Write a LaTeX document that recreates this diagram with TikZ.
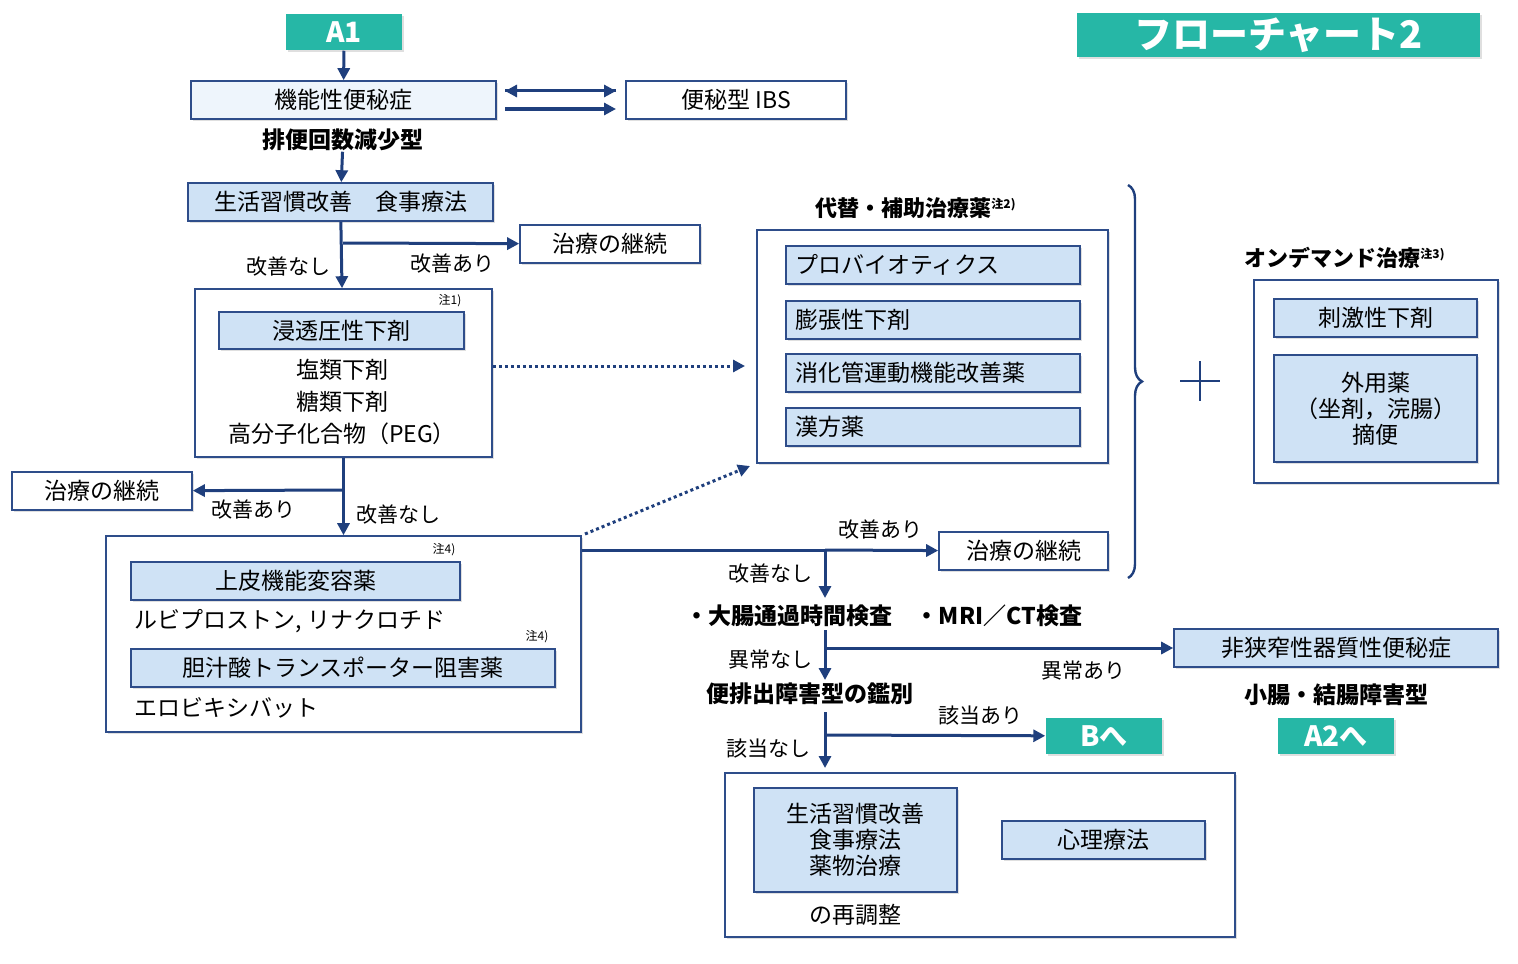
\documentclass[tikz,border=0pt]{standalone}
\usepackage{fontspec}
\setmainfont{Noto Sans CJK JP}
\usetikzlibrary{arrows.meta,shadows,decorations.pathreplacing}
\definecolor{teal}{RGB}{38,183,166}
\definecolor{edge}{RGB}{46,77,138}
\definecolor{line}{RGB}{31,63,125}
\definecolor{pale}{RGB}{238,245,252}
\definecolor{fillb}{RGB}{207,226,245}
\tikzset{
  every picture/.style={line width=0.75pt},
  box/.style={draw=edge,line width=0.8pt,fill=white,inner sep=0pt,
    drop shadow={shadow xshift=1.2pt,shadow yshift=-1.2pt,opacity=0.25},
    font=\fontsize{11.5}{14}\selectfont},
  bbox/.style={box,fill=fillb},
  tag/.style={fill=teal,text=white,inner sep=0pt,
    drop shadow={shadow xshift=1.2pt,shadow yshift=-1.2pt,opacity=0.25},
    font=\bfseries\fontsize{14}{16}\selectfont},
  txt/.style={inner sep=0pt,font=\fontsize{11.5}{14}\selectfont},
  lbl/.style={inner sep=0pt,font=\fontsize{10.5}{12}\selectfont},
  note/.style={inner sep=0pt,font=\fontsize{6}{7}\selectfont},
  arr/.style={draw=line,line width=1.5pt,-{Triangle[length=6pt,width=6pt]}},
  ln/.style={draw=line,line width=1.5pt},
  dot/.style={draw=line,line width=1.5pt,dash pattern=on 1.5pt off 1.5pt,
    -{Triangle[length=6pt,width=6pt]}}
}
\begin{document}
\begin{tikzpicture}[x=0.5pt,y=-0.5pt]
\useasboundingbox (0,0) rectangle (1518,963);

% left column
\node[tag,minimum width=58pt,minimum height=18pt] (a1) at (344,32) {A1};
\node[box,fill=pale,minimum width=152.5pt,minimum height=19pt] (kinou) at (343.5,100) {機能性便秘症};
\node[box,minimum width=110pt,minimum height=19pt] (ibs) at (736,100) {便秘型 IBS};
\node[txt,font=\bfseries\fontsize{11.5}{14}\selectfont] (haiben) at (343,140) {排便回数減少型};
\node[bbox,minimum width=152.5pt,minimum height=19pt] (life) at (340.5,202) {生活習慣改善\quad 食事療法};
\node[box,minimum width=90pt,minimum height=19pt] (cont1) at (610,244) {治療の継続};
\node[box,minimum width=148.5pt,minimum height=84pt] (osm) at (343.5,373) {};
\node[note] at (450,301) {注1)};
\node[bbox,minimum width=122.5pt,minimum height=18.5pt] (shinto) at (341.5,330.5) {浸透圧性下剤};
\node[txt] (enrui) at (342,370) {塩類下剤};
\node[txt] (torui) at (342,402) {糖類下剤};
\node[txt] (peg) at (342,434) {高分子化合物（PEG）};
\node[box,minimum width=90pt,minimum height=19pt] (cont2) at (102,491) {治療の継続};
\node[box,minimum width=237.5pt,minimum height=98pt] (epi) at (343.5,634) {};
\node[note] at (444,550) {注4)};
\node[bbox,minimum width=164.5pt,minimum height=19pt] (joh) at (295.5,581) {上皮機能変容薬};
\node[txt,anchor=west] (rubi) at (134,621) {ルビプロストン, リナクロチド};
\node[note] at (537,637) {注4)};
\node[bbox,minimum width=212pt,minimum height=19pt] (tan) at (343,668) {胆汁酸トランスポーター阻害薬};
\node[txt,anchor=west] (elo) at (134,708) {エロビキシバット};

\coordinate (j1) at (343,243);
\coordinate (j2) at (343,490);
\draw[arr] (a1) -- (kinou);
\draw[arr] (haiben) -- (life);
\draw[arr] (life) -- (osm);
\draw[arr] (j1) -- (cont1);
\draw[arr] (osm) -- (epi);
\draw[arr] (j2) -- (cont2);
\draw[arr] (505,91) -- (616,91) ; \path (505,91) coordinate (ka) (616,91) coordinate (kb);
\draw[arr] (616,91) -- (505,91);
\draw[arr] (505,109) -- (616,109);
\node[lbl] at (288,267) {改善なし};
\node[lbl] at (452,264) {改善あり};
\node[lbl] at (253,510) {改善あり};
\node[lbl] at (398,515) {改善なし};

% alternative drugs
\node[txt,font=\bfseries\fontsize{11}{13}\selectfont] at (916,208) {代替・補助治療薬\textsuperscript{\fontsize{6}{7}\selectfont 注2)}};
\node[box,minimum width=175.5pt,minimum height=116.5pt] (alt) at (932.5,346.5) {};
\foreach \y/\t in {265/プロバイオティクス,320/膨張性下剤,373/消化管運動機能改善薬,427/漢方薬}
  \node[bbox,minimum width=147pt,minimum height=19pt,text width=138pt,align=left] at (933,\y) {\t};
\draw[dot] (osm.east |- 0,366) -- (745,366);
\draw[dot] (585,534) -- (750,466);

% right flow
\coordinate (j3) at (825,550);
\node[box,minimum width=84.5pt,minimum height=19pt] (cont3) at (1023.5,551) {治療の継続};
\draw[ln] (epi.east |- j3) -- (j3);
\draw[arr] (j3) -- (cont3);
\draw[arr] (j3) -- (825,598);
\node[lbl] at (880,530) {改善あり};
\node[lbl] at (770,574) {改善なし};
\node[txt,font=\bfseries\fontsize{11.5}{14}\selectfont] (exam) at (884,616) {・大腸通過時間検査\quad ・MRI／CT検査};
\coordinate (j4) at (825,648);
\node[bbox,minimum width=162pt,minimum height=19pt] (hik) at (1336,648) {非狭窄性器質性便秘症};
\node[txt,font=\bfseries\fontsize{11.5}{14}\selectfont] at (1336,695) {小腸・結腸障害型};
\node[tag,minimum width=58pt,minimum height=18pt] (a2) at (1336,736) {A2へ};
\draw[ln] (825,630) -- (j4);
\draw[arr] (j4) -- (825,680);
\draw[arr] (j4) -- (hik);
\node[lbl] at (770,660) {異常なし};
\node[lbl] at (1083,671) {異常あり};
\node[txt,font=\bfseries\fontsize{11.5}{14}\selectfont] (kanb) at (810,694) {便排出障害型の鑑別};
\coordinate (j5) at (825,735);
\node[tag,minimum width=58pt,minimum height=18pt] (b) at (1104,736) {Bへ};
\draw[ln] (825,712) -- (j5);
\draw[arr] (j5) -- (825,768);
\draw[arr] (j5) -- (b);
\node[lbl] at (980,716) {該当あり};
\node[lbl] at (768,749) {該当なし};
\node[box,minimum width=255pt,minimum height=82pt] (re) at (980,855) {};
\node[bbox,minimum width=101.5pt,minimum height=52pt,align=center] at (855.5,840) {生活習慣改善\\[-1pt]食事療法\\[-1pt]薬物治療};
\node[bbox,minimum width=101.5pt,minimum height=19pt] at (1103.5,840) {心理療法};
\node[txt] at (855,915) {の再調整};

% brace and on-demand
\draw[draw=line,line width=1.2pt,decorate,decoration={brace,amplitude=7pt}] (1128,185) -- (1128,578);
\draw[draw=line,line width=1.3pt] (1180,381) -- (1220,381) (1200,361) -- (1200,401);
\node[txt,font=\bfseries\fontsize{11}{13}\selectfont] at (1345,258) {オンデマンド治療\textsuperscript{\fontsize{6}{7}\selectfont 注3)}};
\node[box,minimum width=122pt,minimum height=101.5pt] (od) at (1376,381.5) {};
\node[bbox,minimum width=101.5pt,minimum height=19pt] at (1375.5,318) {刺激性下剤};
\node[bbox,minimum width=101.5pt,minimum height=53.5pt,align=center] at (1375.5,408.5) {外用薬\\[-1pt]（坐剤，浣腸）\\[-1pt]摘便};

\node[tag,minimum width=201.5pt,minimum height=22pt,font=\bfseries\fontsize{19}{22}\selectfont] at (1278.5,35) {フローチャート2};
\end{tikzpicture}
\end{document}
